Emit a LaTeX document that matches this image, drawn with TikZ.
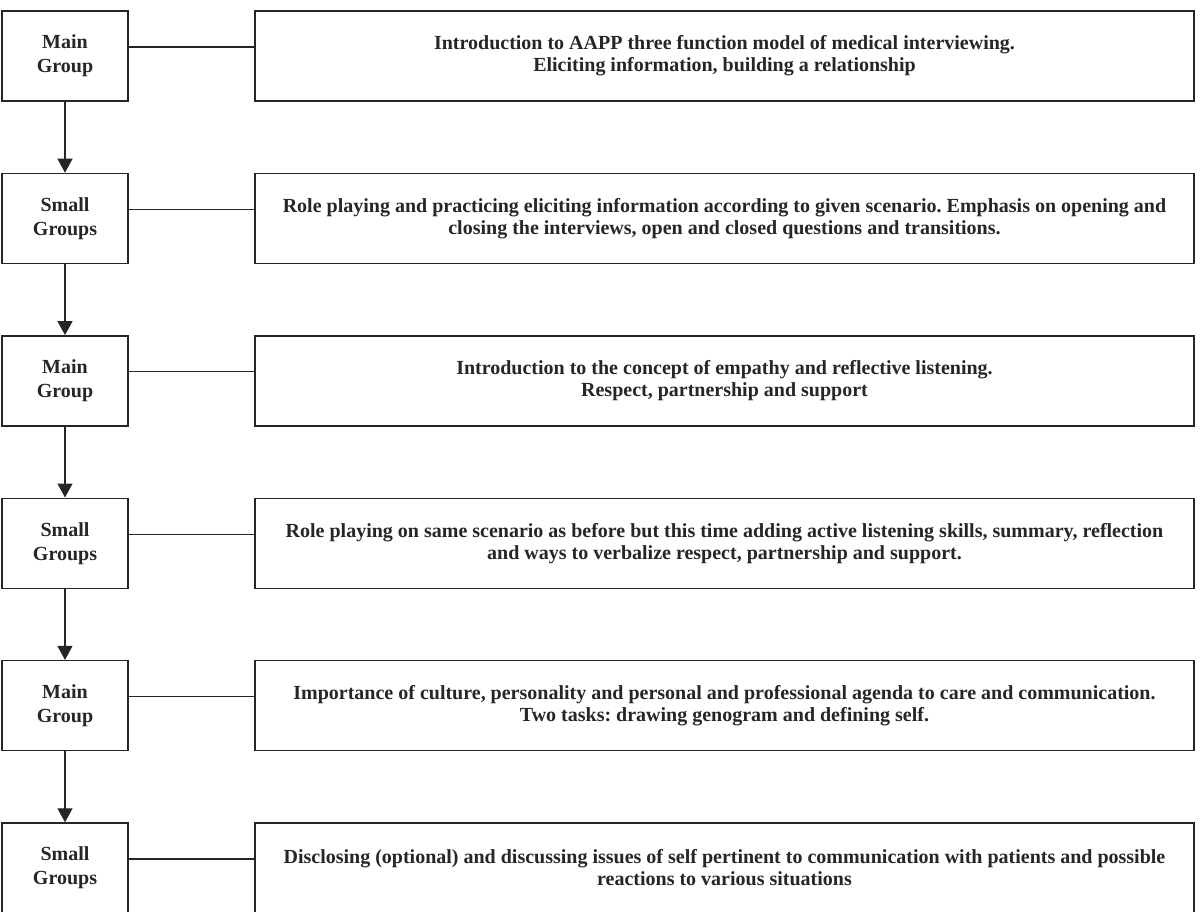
\documentclass[tikz,border=0pt]{standalone}
\usepackage{fontspec}
\setmainfont{Liberation Serif}
\usetikzlibrary{arrows.meta}
\frenchspacing
\begin{document}
\begin{tikzpicture}[x=1pt,y=-1pt,
  lbox/.style={draw=black!85, line width=1.4pt, minimum width=126pt, minimum height=90pt, inner sep=0pt, align=center, font=\fontsize{20}{24}\selectfont\bfseries\frenchspacing, text=black!85},
  rbox/.style={draw=black!85, line width=1.4pt, minimum width=939pt, minimum height=90pt, inner sep=0pt, align=center, font=\fontsize{20}{22}\selectfont\bfseries\frenchspacing, text=black!85},
  link/.style={draw=black!85, line width=1.3pt},
  flow/.style={draw=black!85, line width=1.3pt, -{Triangle[length=14pt,width=15pt]}}]
\useasboundingbox (0,0) rectangle (1200,912);
\node[lbox] (l1) at (65,56) {Main\\Group};
\node[lbox] (l2) at (65,218.4) {Small\\Groups};
\node[lbox] (l3) at (65,380.8) {Main\\Group};
\node[lbox] (l4) at (65,543.2) {Small\\Groups};
\node[lbox] (l5) at (65,705.6) {Main\\Group};
\node[lbox] (l6) at (65,868) {Small\\Groups};
\node[rbox] (r1) at (724.5,56) {Introduction to AAPP three function model of medical interviewing.\\Eliciting information, building a relationship};
\node[rbox] (r2) at (724.5,218.4) {Role playing and practicing eliciting information according to given scenario. Emphasis on opening and\\closing the interviews, open and closed questions and transitions.};
\node[rbox] (r3) at (724.5,380.8) {Introduction to the concept of empathy and reflective listening.\\Respect, partnership and support};
\node[rbox] (r4) at (724.5,543.2) {Role playing on same scenario as before but this time adding active listening skills, summary, reflection\\and ways to verbalize respect, partnership and support.};
\node[rbox] (r5) at (724.5,705.6) {Importance of culture, personality and personal and professional agenda to care and communication.\\Two tasks: drawing genogram and defining self.};
\node[rbox] (r6) at (724.5,868) {Disclosing (optional) and discussing issues of self pertinent to communication with patients and possible\\reactions to various situations};
\foreach \i in {1,...,6}{
  \draw[link] ([yshift=9pt]l\i.east) -- ([yshift=9pt]r\i.west);
}
\foreach \i/\j in {1/2,2/3,3/4,4/5,5/6}{
  \draw[flow] (l\i.south) -- (l\j.north);
}
\end{tikzpicture}
\end{document}
